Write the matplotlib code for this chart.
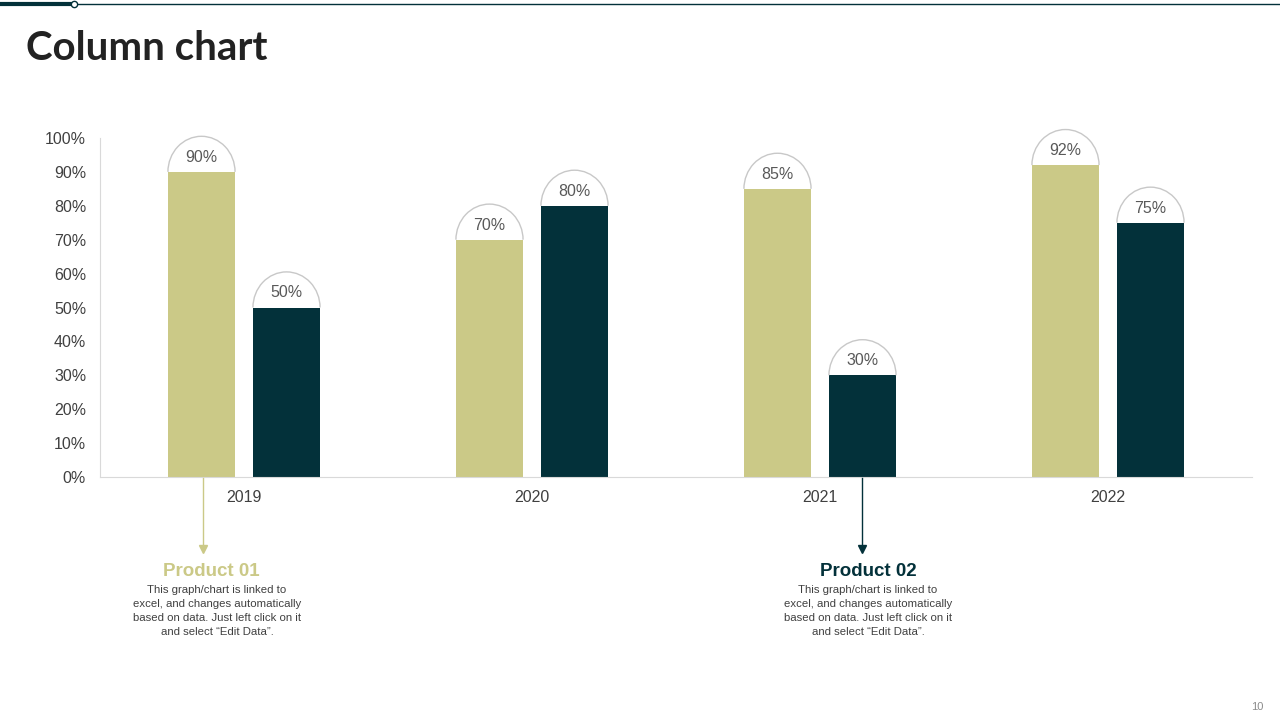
import matplotlib.pyplot as plt
from matplotlib.patches import Arc
import numpy as np

years = ["2019", "2020", "2021", "2022"]
product_01 = [90, 70, 85, 92]
product_02 = [50, 80, 30, 75]
series_names = ["Product 01", "Product 02"]
note = ("This graph/chart is linked to\nexcel, and changes automatically\n"
        "based on data. Just left click on it\nand select \u201cEdit Data\u201d.")

TAN = "#cbc987"
DARK = "#03313a"
GREY = "#404040"

plt.rcParams['font.family'] = ['Liberation Sans', 'DejaVu Sans']

fig = plt.figure(figsize=(12.8, 7.2), dpi=100)
ax = fig.add_axes([100 / 1280, 1 - 477 / 720, 1152 / 1280, 339 / 720])

x = np.arange(len(years))
w = 0.233
off = 0.1476
b1 = ax.bar(x - off, product_01, w, color=TAN)
b2 = ax.bar(x + off, product_02, w, color=DARK)

# rounded caps holding the value labels
for bars, vals in ((b1, product_01), (b2, product_02)):
    for bar, v in zip(bars, vals):
        cx = bar.get_x() + bar.get_width() / 2
        ax.add_patch(Arc((cx, v), w, 21, theta1=0, theta2=180,
                         color="#c8c8c8", lw=1, clip_on=False))
        ax.text(cx, v + 4.3, f"{v}%", ha="center", va="center",
                fontsize=11.5, color="#595959", clip_on=False)

ax.set_xlim(-0.5, 3.5)
ax.set_ylim(0, 100)
ax.set_yticks(range(0, 101, 10))
ax.set_yticklabels([f"{t}%" for t in range(0, 101, 10)])
ax.set_xticks(x)
ax.set_xticklabels(years)
ax.tick_params(length=0, labelsize=11.5, colors=GREY, pad=10)
ax.tick_params(axis="x", pad=9)
for s in ("top", "right"):
    ax.spines[s].set_visible(False)
for s in ("left", "bottom"):
    ax.spines[s].set_color("#d9d9d9")

# header line
fig.add_artist(plt.Line2D([0, 1], [1 - 4 / 720] * 2, color=DARK, lw=1,
                          transform=fig.transFigure))
fig.add_artist(plt.Line2D([0, 73 / 1280], [1 - 4 / 720] * 2, color=DARK, lw=3,
                          transform=fig.transFigure))
fig.add_artist(plt.Line2D([74 / 1280], [1 - 4 / 720], marker="o", ms=4.5,
                          mfc="white", mec=DARK, mew=1,
                          transform=fig.transFigure))
fig.text(26 / 1280, 1 - 49 / 720, "Column chart", fontsize=29,
         fontweight="bold", color="#222222", va="center", family="Lato")

# arrows to the product notes
for px, col, name, tx in ((203, TAN, series_names[0], 211),
                          (862, DARK, series_names[1], 868)):
    fig.add_artist(plt.Line2D([px / 1280] * 2, [1 - 478 / 720, 1 - 546 / 720],
                              color=col, lw=1, transform=fig.transFigure))
    fig.add_artist(plt.Line2D([px / 1280], [1 - 549 / 720], marker="v", ms=6,
                              color=col, transform=fig.transFigure))
    fig.text(tx / 1280, 1 - 571 / 720, name, fontsize=13.5, fontweight="bold",
             color=col, ha="center", va="center")
    fig.text((tx + 6 if px < 500 else tx) / 1280, 1 - 585 / 720, note,
             fontsize=8.2, color=GREY, ha="center", va="top", linespacing=1.48)

fig.text(1257 / 1280, 1 - 707 / 720, "10", fontsize=8, color="#8c8c8c",
         ha="center", va="center")

fig.savefig("out.png", dpi=100)
